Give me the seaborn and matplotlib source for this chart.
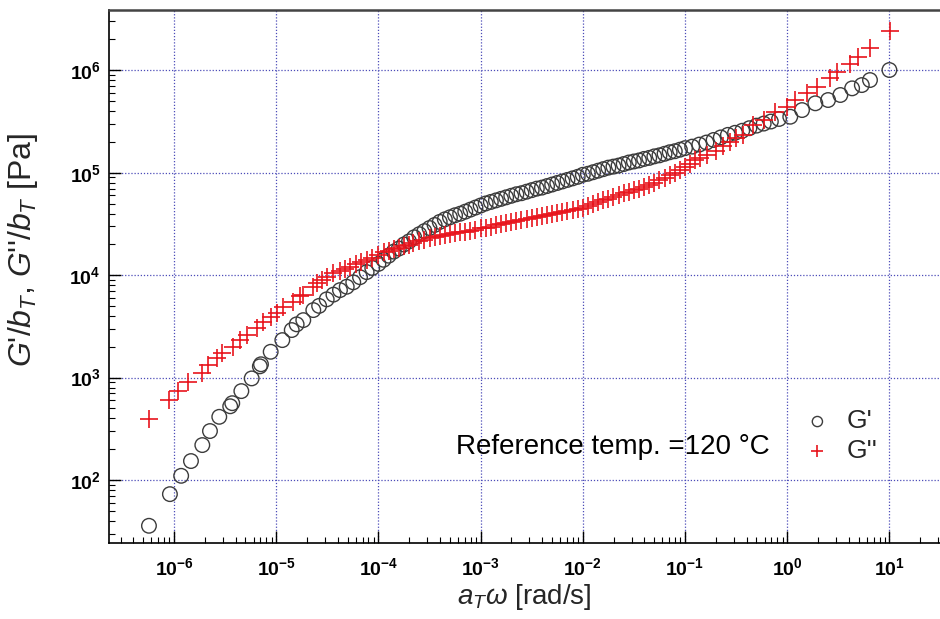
import numpy as np
import pandas as pd
import matplotlib
matplotlib.use("Agg")
import matplotlib.pyplot as plt
import matplotlib.ticker as mticker
import seaborn as sns

# ---- data (log10 values) ----
gp_logw = [-6.245, -6.04, -5.93, -5.834, -5.723, -5.648, -5.557, -5.45, -5.43, -5.341,
           -5.24, -5.16, -5.149, -5.054, -4.94, -4.848, -4.80, -4.735, -4.637, -4.58,
           -4.506, -4.44, -4.376, -4.31, -4.246, -4.18, -4.115, -4.06, -4.00, -3.95,
           -3.90, -3.85, -3.80, -3.75, -3.70, -3.65, -3.60, -3.55, -3.50, -3.45,
           -3.40, -3.35, -3.30, -3.25, -3.20, -3.15, -3.10, -3.05, -3.00, -2.95,
           -2.90, -2.85, -2.80, -2.75, -2.70, -2.65, -2.60, -2.55, -2.50, -2.45,
           -2.40, -2.35, -2.30, -2.25, -2.20, -2.15, -2.10, -2.05, -2.00, -1.95,
           -1.90, -1.85, -1.80, -1.75, -1.70, -1.65, -1.60, -1.55, -1.50, -1.45,
           -1.40, -1.35, -1.30, -1.25, -1.20, -1.15, -1.10, -1.05, -1.00, -0.93,
           -0.86, -0.79, -0.72, -0.65, -0.58, -0.51, -0.44, -0.37, -0.30, -0.23,
           -0.16, -0.08, 0.03, 0.145, 0.275, 0.40, 0.52, 0.635, 0.73, 0.81, 1.0]
gp_logG = [1.553, 1.862, 2.041, 2.185, 2.341, 2.478, 2.617, 2.72, 2.75, 2.868,
           2.992, 3.11, 3.13, 3.252, 3.366, 3.464, 3.52, 3.561, 3.659, 3.70,
           3.764, 3.81, 3.854, 3.887, 3.93, 3.98, 4.03, 4.07, 4.11, 4.15,
           4.19, 4.23, 4.26, 4.30, 4.33, 4.37, 4.40, 4.43, 4.46, 4.49,
           4.52, 4.545, 4.565, 4.585, 4.60, 4.62, 4.64, 4.66, 4.68, 4.70,
           4.715, 4.73, 4.745, 4.76, 4.775, 4.79, 4.80, 4.815, 4.83, 4.845,
           4.855, 4.87, 4.885, 4.90, 4.915, 4.93, 4.945, 4.96, 4.98, 4.99,
           5.005, 5.02, 5.035, 5.05, 5.06, 5.07, 5.085, 5.10, 5.11, 5.12,
           5.135, 5.145, 5.16, 5.17, 5.185, 5.20, 5.21, 5.225, 5.24, 5.255,
           5.275, 5.295, 5.32, 5.345, 5.37, 5.39, 5.41, 5.435, 5.46, 5.48,
           5.50, 5.525, 5.547, 5.612, 5.678, 5.71, 5.759, 5.824, 5.856, 5.905, 6.003]

gpp_logw = [-6.245, -6.046, -5.958, -5.86, -5.729, -5.664, -5.582, -5.533, -5.42, -5.354,
            -5.289, -5.19, -5.126, -5.05, -4.995, -4.93, -4.833, -4.767, -4.735, -4.637,
            -4.604, -4.55, -4.50, -4.441, -4.38, -4.33, -4.278, -4.22, -4.17, -4.115,
            -4.06, -4.00, -3.95, -3.90, -3.85, -3.80, -3.75, -3.70, -3.658, -3.60,
            -3.55, -3.495, -3.45, -3.40, -3.35, -3.30, -3.25, -3.20, -3.15, -3.10,
            -3.05, -3.00, -2.95, -2.90, -2.85, -2.80, -2.75, -2.70, -2.65, -2.60,
            -2.55, -2.50, -2.45, -2.40, -2.35, -2.30, -2.25, -2.20, -2.15, -2.10,
            -2.05, -2.00, -1.95, -1.90, -1.85, -1.80, -1.75, -1.70, -1.65, -1.60,
            -1.55, -1.50, -1.45, -1.40, -1.35, -1.30, -1.25, -1.20, -1.15, -1.10,
            -1.05, -1.00, -0.95, -0.90, -0.85, -0.78, -0.70, -0.63, -0.56, -0.50,
            -0.43, -0.33, -0.23, -0.12, -0.005, 0.076, 0.19, 0.289, 0.419, 0.484,
            0.615, 0.696, 0.81, 1.006]
gpp_logG = [2.592, 2.78, 2.871, 2.959, 3.04, 3.122, 3.187, 3.236, 3.30, 3.366,
            3.415, 3.48, 3.545, 3.59, 3.627, 3.69, 3.74, 3.80, 3.806, 3.887,
            3.92, 3.95, 3.98, 4.018, 4.04, 4.065, 4.082, 4.11, 4.13, 4.147,
            4.17, 4.20, 4.225, 4.24, 4.255, 4.265, 4.28, 4.295, 4.31, 4.33,
            4.345, 4.359, 4.37, 4.38, 4.39, 4.40, 4.41, 4.42, 4.425, 4.435,
            4.445, 4.457, 4.465, 4.475, 4.49, 4.495, 4.505, 4.515, 4.525, 4.535,
            4.545, 4.555, 4.565, 4.575, 4.587, 4.60, 4.61, 4.62, 4.63, 4.64,
            4.65, 4.66, 4.675, 4.69, 4.71, 4.73, 4.745, 4.76, 4.78, 4.80,
            4.815, 4.83, 4.845, 4.86, 4.88, 4.90, 4.925, 4.95, 4.975, 5.00,
            5.03, 5.06, 5.09, 5.12, 5.14, 5.17, 5.215, 5.26, 5.303, 5.335,
            5.368, 5.466, 5.515, 5.596, 5.645, 5.71, 5.775, 5.84, 5.922, 5.987,
            6.06, 6.133, 6.215, 6.384]

x_major = [1e-6, 1e-5, 1e-4, 1e-3, 1e-2, 1e-1, 1e0, 1e1]
y_major = [1e2, 1e3, 1e4, 1e5, 1e6]

df_gp = pd.DataFrame({"w": 10 ** np.array(gp_logw), "G": 10 ** np.array(gp_logG)})
df_gpp = pd.DataFrame({"w": 10 ** np.array(gpp_logw), "G": 10 ** np.array(gpp_logG)})

sns.set_style("white")
plt.rcParams["font.family"] = ["Liberation Sans", "DejaVu Sans"]
plt.rcParams["mathtext.fontset"] = "custom"
plt.rcParams["mathtext.rm"] = "Liberation Sans"
plt.rcParams["mathtext.it"] = "Liberation Sans:italic"
plt.rcParams["mathtext.bf"] = "Liberation Sans:bold"

fig = plt.figure(figsize=(9.4, 6.19), dpi=100)
ax = fig.add_axes([109 / 940, 1 - 543.3 / 619, 1 - 109 / 940, (543.3 - 10) / 619])

sns.scatterplot(data=df_gp, x="w", y="G", ax=ax, marker="o", s=110,
                facecolors="none", edgecolor="#3c3c3c", linewidth=1.0, label="G'",
                zorder=3)
sns.scatterplot(data=df_gpp, x="w", y="G", ax=ax, marker="+", s=160,
                color="#e8141c", linewidth=1.2, label="G''", zorder=4)

ax.set_xscale("log")
ax.set_yscale("log")
ax.set_xlim(10 ** -6.636, 10 ** 1.495)
ax.set_ylim(10 ** 1.382, 10 ** 6.589)

ax.xaxis.set_major_locator(mticker.FixedLocator(x_major))
ax.yaxis.set_major_locator(mticker.FixedLocator(y_major))
ax.xaxis.set_minor_locator(mticker.LogLocator(base=10, subs=np.arange(2, 10), numticks=20))
ax.yaxis.set_minor_locator(mticker.LogLocator(base=10, subs=np.arange(2, 10), numticks=20))


def fmt(v, pos):
    e = int(round(np.log10(v)))
    return r"$\mathbf{10^{%d}}$" % e


ax.xaxis.set_major_formatter(mticker.FuncFormatter(fmt))
ax.yaxis.set_major_formatter(mticker.FuncFormatter(fmt))
ax.xaxis.set_minor_formatter(mticker.NullFormatter())
ax.yaxis.set_minor_formatter(mticker.NullFormatter())

ax.tick_params(axis="both", which="major", direction="in", length=8.5, width=1.0,
               labelsize=14, color="black", labelcolor="black")
ax.tick_params(axis="both", which="minor", direction="in", length=4.3, width=0.8,
               color="black")
ax.tick_params(axis="x", which="both", top=False, bottom=True, pad=10)
ax.tick_params(axis="y", which="both", right=False, left=True, pad=6)

ax.grid(True, which="major", linestyle=(0, (1, 1.5)), color="#4c4cb8", linewidth=0.9)
ax.grid(False, which="minor")

for side in ["left", "bottom"]:
    ax.spines[side].set_color("black")
    ax.spines[side].set_linewidth(1.2)
ax.spines["top"].set_color("#444444")
ax.spines["top"].set_linewidth(1.8)
ax.spines["right"].set_visible(False)

ax.set_xlabel(r"$a_T\omega$ [rad/s]", fontsize=20, labelpad=2)
ax.set_ylabel(r"$G$'/$b_T$, $G$''/$b_T$ [Pa]", fontsize=23)
ax.yaxis.set_label_coords(-0.083, 0.55)

ax.text(0.417, 0.1806, "Reference temp. =120 °C", transform=ax.transAxes,
        fontsize=20, ha="left", va="center", color="black")

leg = ax.legend(loc="center left", bbox_to_anchor=(0.808, 0.201), frameon=False,
                fontsize=19, handletextpad=0.6, labelspacing=0.2,
                markerscale=0.7, handlelength=1.0)

fig.savefig("out.png", dpi=100)
